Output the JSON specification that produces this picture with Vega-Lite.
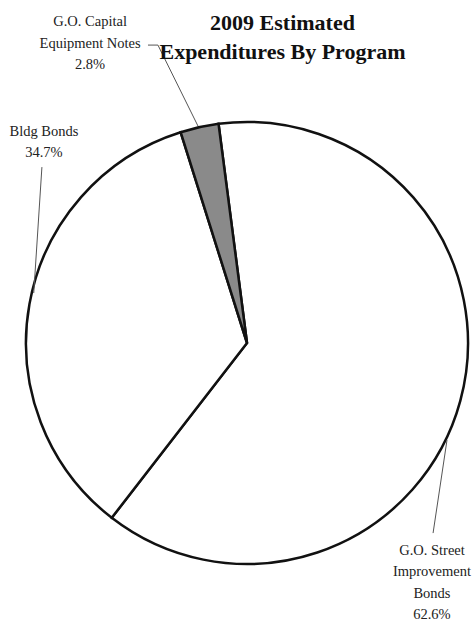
{
  "$schema": "https://vega.github.io/schema/vega-lite/v6.json",
  "width": 456,
  "height": 572,
  "autosize": "none",
  "padding": {"left": 19, "top": 57, "right": 0, "bottom": 0},
  "background": "white",
  "config": {"view": {"stroke": null}},
  "title": {
    "text": ["2009 Estimated", "Expenditures By Program"],
    "font": "Liberation Serif",
    "fontSize": 22,
    "fontWeight": "bold",
    "color": "#111111",
    "anchor": "middle",
    "frame": "group",
    "dx": 35.5,
    "lineHeight": 29.5,
    "offset": -50
  },
  "datasets": {
    "programs": [
      {"program": "G.O. Street Improvement Bonds", "label": "G.O. Street\nImprovement\nBonds", "pct": 62.6, "order": 1, "lx": 0.837, "ly": -0.941},
      {"program": "Bldg Bonds", "label": "Bldg Bonds", "pct": 34.7, "order": 2, "lx": -0.919, "ly": 0.957},
      {"program": "G.O. Capital Equipment Notes", "label": "G.O. Capital\nEquipment Notes", "pct": 2.8, "order": 3, "lx": -0.71, "ly": 1.452}
    ],
    "leaders": [
      {"program": "G.O. Street Improvement Bonds", "seq": 1, "ux": 0.905, "uy": -0.439},
      {"program": "G.O. Street Improvement Bonds", "seq": 2, "ux": 0.842, "uy": -0.86},
      {"program": "Bldg Bonds", "seq": 1, "ux": -0.928, "uy": 0.796},
      {"program": "Bldg Bonds", "seq": 2, "ux": -0.965, "uy": 0.226},
      {"program": "G.O. Capital Equipment Notes", "seq": 1, "ux": -0.448, "uy": 1.348},
      {"program": "G.O. Capital Equipment Notes", "seq": 2, "ux": -0.403, "uy": 1.348},
      {"program": "G.O. Capital Equipment Notes", "seq": 3, "ux": -0.222, "uy": 0.982}
    ]
  },
  "layer": [
    {
      "data": {"name": "programs"},
      "mark": {"type": "arc", "outerRadius": 221, "stroke": "#111111", "strokeWidth": 2.5},
      "encoding": {
        "theta": {"field": "pct", "type": "quantitative", "stack": true, "scale": {"range": [-0.129, 6.154]}},
        "order": {"field": "order", "type": "quantitative"},
        "color": {
          "field": "program",
          "type": "nominal",
          "scale": {
            "domain": ["G.O. Street Improvement Bonds", "Bldg Bonds", "G.O. Capital Equipment Notes"],
            "range": ["#ffffff", "#ffffff", "#8a8a8a"]
          },
          "legend": null
        }
      }
    },
    {
      "data": {"name": "leaders"},
      "mark": {"type": "line", "stroke": "#555555", "strokeWidth": 1},
      "encoding": {
        "x": {"field": "ux", "type": "quantitative", "scale": {"domain": [-1.0317, 1.0317], "nice": false, "zero": false}, "axis": null},
        "y": {"field": "uy", "type": "quantitative", "scale": {"domain": [-1.2941, 1.2941], "nice": false, "zero": false}, "axis": null},
        "detail": {"field": "program", "type": "nominal"},
        "order": {"field": "seq", "type": "quantitative"}
      }
    },
    {
      "data": {"name": "programs"},
      "transform": [
        {"calculate": "datum.label + '\\n' + format(datum.pct, '.1f') + '%'", "as": "labelText"}
      ],
      "mark": {
        "type": "text",
        "font": "Liberation Serif",
        "fontSize": 14.5,
        "lineHeight": 21.5,
        "lineBreak": "\n",
        "align": "center",
        "baseline": "middle",
        "color": "#222222"
      },
      "encoding": {
        "x": {"field": "lx", "type": "quantitative", "scale": {"domain": [-1.0317, 1.0317], "nice": false, "zero": false}, "axis": null},
        "y": {"field": "ly", "type": "quantitative", "scale": {"domain": [-1.2941, 1.2941], "nice": false, "zero": false}, "axis": null},
        "text": {"field": "labelText"}
      }
    }
  ]
}
